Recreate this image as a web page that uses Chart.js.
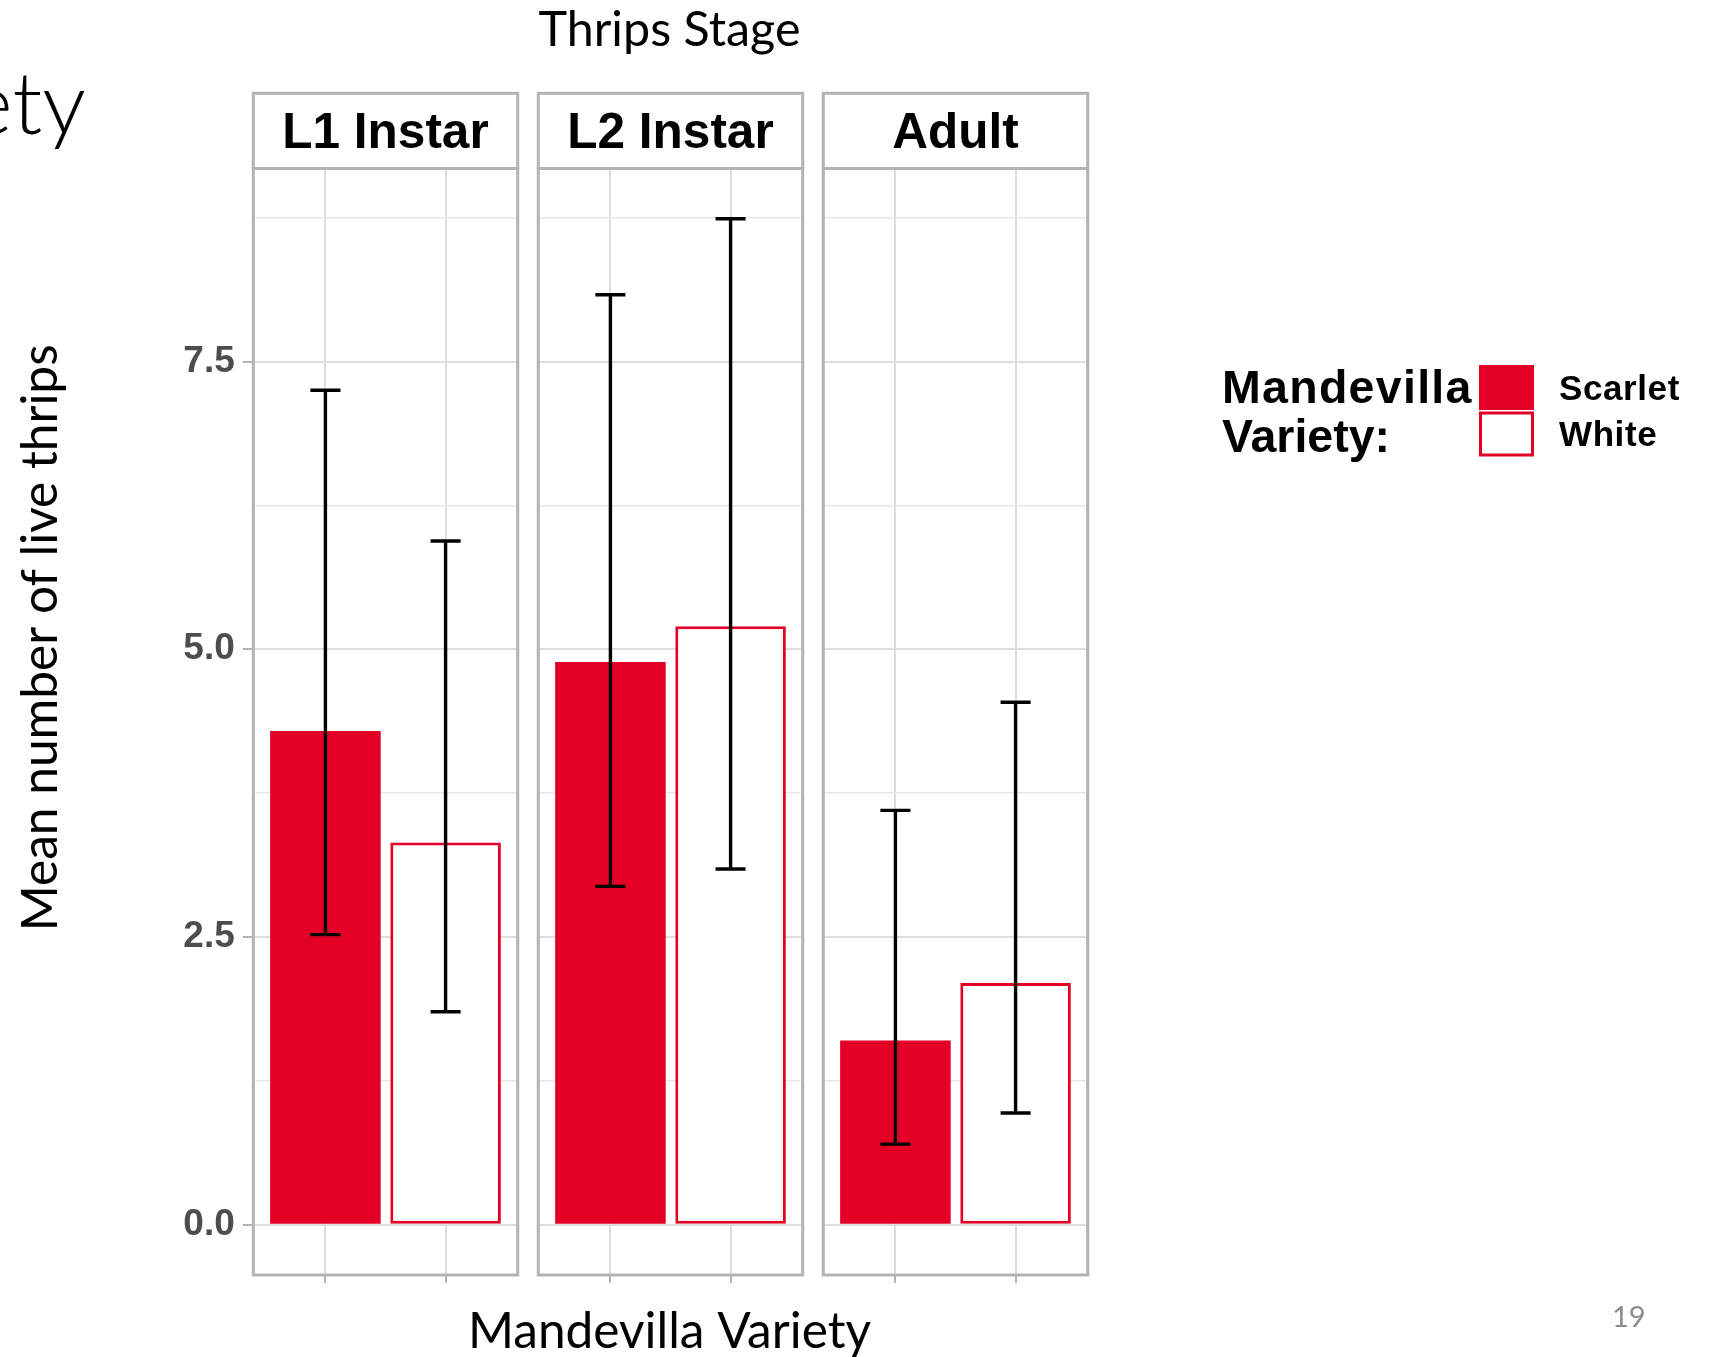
<!DOCTYPE html>
<html>
<head>
<meta charset="utf-8">
<title>Mean number of live thrips by stage and Mandevilla variety</title>
<script src="https://cdn.jsdelivr.net/npm/chart.js@4.4.1/dist/chart.umd.min.js"></script>
<style>
  html, body { margin: 0; padding: 0; background: #ffffff; }
  #page { position: relative; width: 1714px; height: 1357px; overflow: hidden; background: #ffffff; }
  #page canvas { position: absolute; top: 0; }
</style>
</head>
<body>
<div id="page">
  <canvas id="deco" width="1714" height="1357" style="left:0;width:1714px;height:1357px"></canvas>
</div>
<script>
// ---- data -------------------------------------------------------------
// Facets: thrips life stage
const stages = ['L1 Instar', 'L2 Instar', 'Adult'];
// Mandevilla varieties (x categories inside every facet)
const varieties = ['Scarlet', 'White'];
// Mean number of live thrips, one value per stage
const scarletMean = [4.29, 4.89, 1.60];
const whiteMean   = [3.32, 5.20, 2.10];
// Error bar limits, one value per stage
const scarletLow  = [2.52, 2.94, 0.70];
const scarletHigh = [7.25, 8.08, 3.60];
const whiteLow    = [1.85, 3.09, 0.97];
const whiteHigh   = [5.94, 8.74, 4.54];
// Y axis ticks and limits
const yMajorTicks = [0, 2.5, 5, 7.5];
const yTickLabels = ['0.0', '2.5', '5.0', '7.5'];
const yMinorTicks = [1.25, 3.75, 6.25, 8.75];
const yLimits = [-0.437, 9.177];

// ---- style and layout -------------------------------------------------
const RED = '#E30024';
const FRAME = '#b3b3b3';
const GRID_MAJOR = '#dedede';
const GRID_MINOR = '#e8e8e8';
const SANS_BOLD = '"Liberation Sans", Arial, Helvetica, sans-serif';
const SOFT = 'Lato, "Open Sans", "Noto Sans", sans-serif';
const PAGE_H = 1357;
const PANEL_LEFT0 = 253.3;
const PANEL_STEP = 285;
const PANEL_W = 264.4;
const PLOT_TOP = 168.5;
const PLOT_BOTTOM = 1275;
const STRIP_TOP = 93.3;
const CAP_WIDTH = 0.25;          // error bar cap width in x units
const X_RANGE = [0.4, 2.6];      // discrete axis with 0.6 expansion on both sides

const isMajor = v => yMajorTicks.indexOf(v) >= 0;

// Draws error bars, the panel frame and the facet strip of one panel.
function facetPlugin(index) {
  return {
    id: 'facet' + index,
    afterDatasetsDraw(chart) {
      const { ctx, scales } = chart;
      const x = scales.x, y = scales.y;
      const limits = [
        [scarletLow[index], scarletHigh[index]],
        [whiteLow[index], whiteHigh[index]]
      ];
      const half = (x.getPixelForValue(1 + CAP_WIDTH / 2) - x.getPixelForValue(1));
      ctx.save();
      ctx.strokeStyle = '#000000';
      ctx.lineWidth = 3.4;
      ctx.lineCap = 'butt';
      chart.data.datasets.forEach((ds, d) => {
        const bar = chart.getDatasetMeta(d).data[0];
        const cx = bar.x;
        const yLo = y.getPixelForValue(limits[d][0]);
        const yHi = y.getPixelForValue(limits[d][1]);
        ctx.beginPath();
        ctx.moveTo(cx, yHi); ctx.lineTo(cx, yLo);
        ctx.moveTo(cx - half, yHi); ctx.lineTo(cx + half, yHi);
        ctx.moveTo(cx - half, yLo); ctx.lineTo(cx + half, yLo);
        ctx.stroke();
      });
      ctx.restore();
    },
    afterDraw(chart) {
      const { ctx, chartArea: a } = chart;
      ctx.save();
      // panel border
      ctx.strokeStyle = FRAME;
      ctx.lineWidth = 3;
      ctx.strokeRect(a.left, a.top, a.right - a.left, a.bottom - a.top);
      // strip
      ctx.fillStyle = '#ffffff';
      ctx.fillRect(a.left, STRIP_TOP, a.right - a.left, a.top - STRIP_TOP);
      ctx.strokeRect(a.left, STRIP_TOP, a.right - a.left, a.top - STRIP_TOP);
      ctx.fillStyle = '#000000';
      ctx.font = 'bold 49.5px ' + SANS_BOLD;
      ctx.textAlign = 'center';
      ctx.textBaseline = 'alphabetic';
      ctx.fillText(stages[index], (a.left + a.right) / 2, 148.3);
      ctx.restore();
    }
  };
}

const page = document.getElementById('page');

stages.forEach((stage, i) => {
  const first = i === 0;
  const panelLeft = PANEL_LEFT0 + i * PANEL_STEP;
  const canvasLeft = first ? 150 : Math.floor(panelLeft) - 20;
  const canvasRight = Math.ceil(panelLeft + PANEL_W + 20);
  const canvasW = canvasRight - canvasLeft;
  const yAxisW = first ? panelLeft - canvasLeft : 0;
  const padLeft = first ? 0 : panelLeft - canvasLeft;
  const padRight = canvasRight - (panelLeft + PANEL_W);

  const cv = document.createElement('canvas');
  cv.width = canvasW;
  cv.height = PAGE_H;
  cv.style.left = canvasLeft + 'px';
  cv.style.width = canvasW + 'px';
  cv.style.height = PAGE_H + 'px';
  page.appendChild(cv);

  new Chart(cv, {
    type: 'bar',
    data: {
      datasets: [
        {
          label: varieties[0],
          data: [{ x: 1, y: scarletMean[i] }],
          backgroundColor: RED,
          borderWidth: 0,
          grouped: false,
          categoryPercentage: 1,
          barPercentage: 0.92
        },
        {
          label: varieties[1],
          data: [{ x: 2, y: whiteMean[i] }],
          backgroundColor: '#ffffff',
          borderColor: RED,
          borderWidth: 3,
          borderSkipped: false,
          grouped: false,
          categoryPercentage: 1,
          barPercentage: 0.92
        }
      ]
    },
    options: {
      responsive: false,
      maintainAspectRatio: false,
      animation: false,
      devicePixelRatio: 1,
      events: [],
      layout: {
        padding: { top: PLOT_TOP, bottom: PAGE_H - PLOT_BOTTOM, left: padLeft, right: padRight }
      },
      plugins: {
        legend: { display: false },
        tooltip: { enabled: false },
        title: { display: false }
      },
      scales: {
        x: {
          type: 'linear',
          min: X_RANGE[0],
          max: X_RANGE[1],
          offset: false,
          afterBuildTicks: s => { s.ticks = varieties.map((v, k) => ({ value: k + 1 })); },
          afterFit: s => { s.height = 0; },
          ticks: { display: false },
          border: { display: false },
          grid: {
            offset: false,
            color: GRID_MAJOR,
            lineWidth: 2,
            drawTicks: true,
            tickLength: 8,
            tickColor: FRAME,
            tickWidth: 2
          }
        },
        y: {
          type: 'linear',
          min: yLimits[0],
          max: yLimits[1],
          afterBuildTicks: s => {
            s.ticks = yMajorTicks.concat(yMinorTicks).sort((p, q) => p - q).map(v => ({ value: v }));
          },
          afterFit: s => { s.width = yAxisW; },
          border: { display: false },
          ticks: {
            display: first,
            autoSkip: false,
            padding: 8,
            color: '#4d4d4d',
            font: { family: SANS_BOLD, size: 37, weight: 'bold' },
            callback: v => { const k = yMajorTicks.indexOf(v); return k >= 0 ? yTickLabels[k] : ''; }
          },
          grid: {
            color: c => (c.tick && isMajor(c.tick.value)) ? GRID_MAJOR : GRID_MINOR,
            lineWidth: c => (c.tick && isMajor(c.tick.value)) ? 2 : 1.5,
            drawTicks: first,
            tickLength: 10.5,
            tickWidth: 2,
            tickColor: c => (c.tick && isMajor(c.tick.value)) ? FRAME : 'rgba(0,0,0,0)'
          }
        }
      }
    },
    plugins: [facetPlugin(i)]
  });
});

// ---- titles, legend and slide text ------------------------------------
(function drawDecorations() {
  const ctx = document.getElementById('deco').getContext('2d');

  function sizeForWidth(text, weight, family, width) {
    ctx.font = weight + ' 100px ' + family;
    return 100 * width / ctx.measureText(text).width;
  }

  ctx.fillStyle = '#000000';
  ctx.textBaseline = 'alphabetic';

  // slide title fragment at the left edge
  ctx.font = '300 87px ' + SOFT;
  ctx.textAlign = 'right';
  ctx.fillText('ety', 86, 134);

  // facet title
  let s = sizeForWidth('Thrips Stage', 'normal', SOFT, 262);
  ctx.font = 'normal ' + s + 'px ' + SOFT;
  ctx.textAlign = 'center';
  let m = ctx.measureText('Thrips Stage');
  ctx.fillText('Thrips Stage', 669.5, 9.5 + m.actualBoundingBoxAscent);

  // x axis title
  s = sizeForWidth('Mandevilla Variety', 'normal', SOFT, 403);
  ctx.font = 'normal ' + s + 'px ' + SOFT;
  m = ctx.measureText('Mandevilla Variety');
  ctx.fillText('Mandevilla Variety', 669.5, 1311 + m.actualBoundingBoxAscent);

  // y axis title (rotated)
  const yTitle = 'Mean number of live thrips';
  s = sizeForWidth(yTitle, 'normal', SOFT, 587);
  ctx.font = 'normal ' + s + 'px ' + SOFT;
  m = ctx.measureText(yTitle);
  const bx = 42.7 + (m.actualBoundingBoxAscent - m.actualBoundingBoxDescent) / 2;
  ctx.save();
  ctx.translate(bx, 637.8);
  ctx.rotate(-Math.PI / 2);
  ctx.fillText(yTitle, 0, 0);
  ctx.restore();

  // legend
  ctx.textAlign = 'left';
  ctx.font = 'bold 46.5px ' + SANS_BOLD;
  ctx.letterSpacing = '1.3px';
  ctx.fillText('Mandevilla', 1222, 403.3);
  ctx.letterSpacing = '0px';
  ctx.fillText('Variety:', 1222, 451.5);

  ctx.fillStyle = RED;
  ctx.fillRect(1479, 365, 55, 45);
  ctx.fillStyle = '#ffffff';
  ctx.fillRect(1479, 411.5, 55, 45);
  ctx.strokeStyle = RED;
  ctx.lineWidth = 3;
  ctx.strokeRect(1480.5, 413, 52, 42);

  ctx.fillStyle = '#000000';
  ctx.font = 'bold 35px ' + SANS_BOLD;
  ctx.letterSpacing = '0.6px';
  ctx.fillText(varieties[0], 1559, 400);
  ctx.fillText(varieties[1], 1559, 446);
  ctx.letterSpacing = '0px';

  // slide number
  ctx.fillStyle = '#8c8c8c';
  ctx.font = 'normal 29px ' + SOFT;
  ctx.fillText('19', 1612, 1327);
})();
</script>
</body>
</html>
